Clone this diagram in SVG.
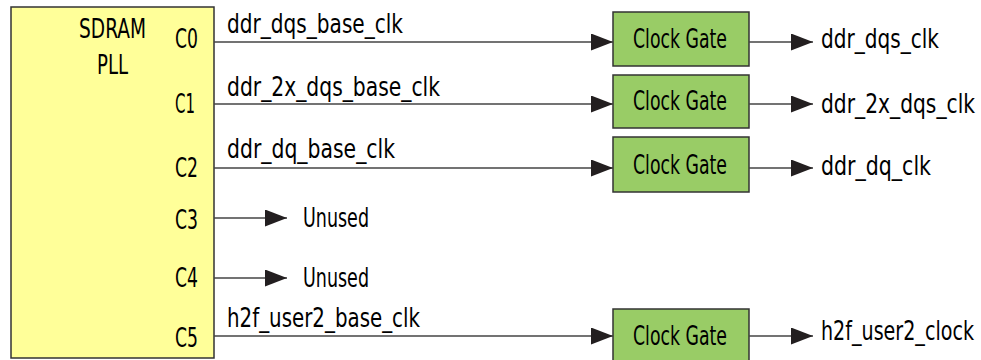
<svg xmlns="http://www.w3.org/2000/svg" width="981" height="360" viewBox="0 0 981 360">
<style>
text{font-family:"Liberation Sans Narrow","DejaVu Sans Condensed","Liberation Sans",sans-serif;font-size:26px;fill:#000}
.pll{fill:#FFFF99;stroke:#333;stroke-width:1.5}
.gate{fill:#99CC66;stroke:#333;stroke-width:1.5}
.wire{stroke:#444;stroke-width:1.4;fill:none;marker-end:url(#arr)}
</style>
<defs>
<marker id="arr" markerUnits="userSpaceOnUse" markerWidth="22" markerHeight="17" refX="22" refY="8.5" orient="auto">
<path d="M0,0 L22,8.5 L0,17 z" fill="#231F20"/>
</marker>
</defs>
<g id="pll">
<rect class="pll" x="11" y="7" width="203" height="351"/>
<text x="79" y="38" textLength="67" lengthAdjust="spacingAndGlyphs">SDRAM</text>
<text x="97" y="74" textLength="31" lengthAdjust="spacingAndGlyphs">PLL</text>
<text x="175" y="48" textLength="23" lengthAdjust="spacingAndGlyphs">C0</text>
<text x="175" y="113" textLength="20" lengthAdjust="spacingAndGlyphs">C1</text>
<text x="175" y="177" textLength="23" lengthAdjust="spacingAndGlyphs">C2</text>
<text x="175" y="229" textLength="23" lengthAdjust="spacingAndGlyphs">C3</text>
<text x="175" y="287" textLength="23" lengthAdjust="spacingAndGlyphs">C4</text>
<text x="175" y="347" textLength="23" lengthAdjust="spacingAndGlyphs">C5</text>
</g>
<g id="gate1">
<rect class="gate" x="613" y="12" width="136" height="54"/>
<text x="633" y="48" textLength="94" lengthAdjust="spacingAndGlyphs">Clock Gate</text>
</g>
<g id="gate2">
<rect class="gate" x="613" y="75" width="136" height="53"/>
<text x="633" y="110" textLength="94" lengthAdjust="spacingAndGlyphs">Clock Gate</text>
</g>
<g id="gate3">
<rect class="gate" x="613" y="137" width="136" height="55"/>
<text x="633" y="174" textLength="94" lengthAdjust="spacingAndGlyphs">Clock Gate</text>
</g>
<g id="gate4">
<rect class="gate" x="613" y="309" width="136" height="54"/>
<text x="633" y="345" textLength="94" lengthAdjust="spacingAndGlyphs">Clock Gate</text>
</g>
<g id="connectors">
<line class="wire" x1="214" y1="42" x2="613" y2="42"/>
<line class="wire" x1="214" y1="104" x2="613" y2="104"/>
<line class="wire" x1="214" y1="168" x2="613" y2="168"/>
<line class="wire" x1="214" y1="218" x2="287" y2="218"/>
<line class="wire" x1="214" y1="278" x2="287" y2="278"/>
<line class="wire" x1="214" y1="336" x2="613" y2="336"/>
<line class="wire" x1="749" y1="42" x2="813" y2="42"/>
<line class="wire" x1="749" y1="104" x2="813" y2="104"/>
<line class="wire" x1="749" y1="168" x2="813" y2="168"/>
<line class="wire" x1="749" y1="336" x2="813" y2="336"/>
<text x="227" y="33" textLength="176" lengthAdjust="spacingAndGlyphs">ddr_dqs_base_clk</text>
<text x="227" y="96" textLength="213" lengthAdjust="spacingAndGlyphs">ddr_2x_dqs_base_clk</text>
<text x="227" y="158" textLength="168" lengthAdjust="spacingAndGlyphs">ddr_dq_base_clk</text>
<text x="227" y="327" textLength="193" lengthAdjust="spacingAndGlyphs">h2f_user2_base_clk</text>
<text x="303" y="227" textLength="66" lengthAdjust="spacingAndGlyphs">Unused</text>
<text x="303" y="287" textLength="66" lengthAdjust="spacingAndGlyphs">Unused</text>
<text x="821" y="48" textLength="118" lengthAdjust="spacingAndGlyphs">ddr_dqs_clk</text>
<text x="821" y="113" textLength="154" lengthAdjust="spacingAndGlyphs">ddr_2x_dqs_clk</text>
<text x="821" y="175" textLength="110" lengthAdjust="spacingAndGlyphs">ddr_dq_clk</text>
<text x="821" y="340" textLength="153" lengthAdjust="spacingAndGlyphs">h2f_user2_clock</text>
</g>
</svg>
